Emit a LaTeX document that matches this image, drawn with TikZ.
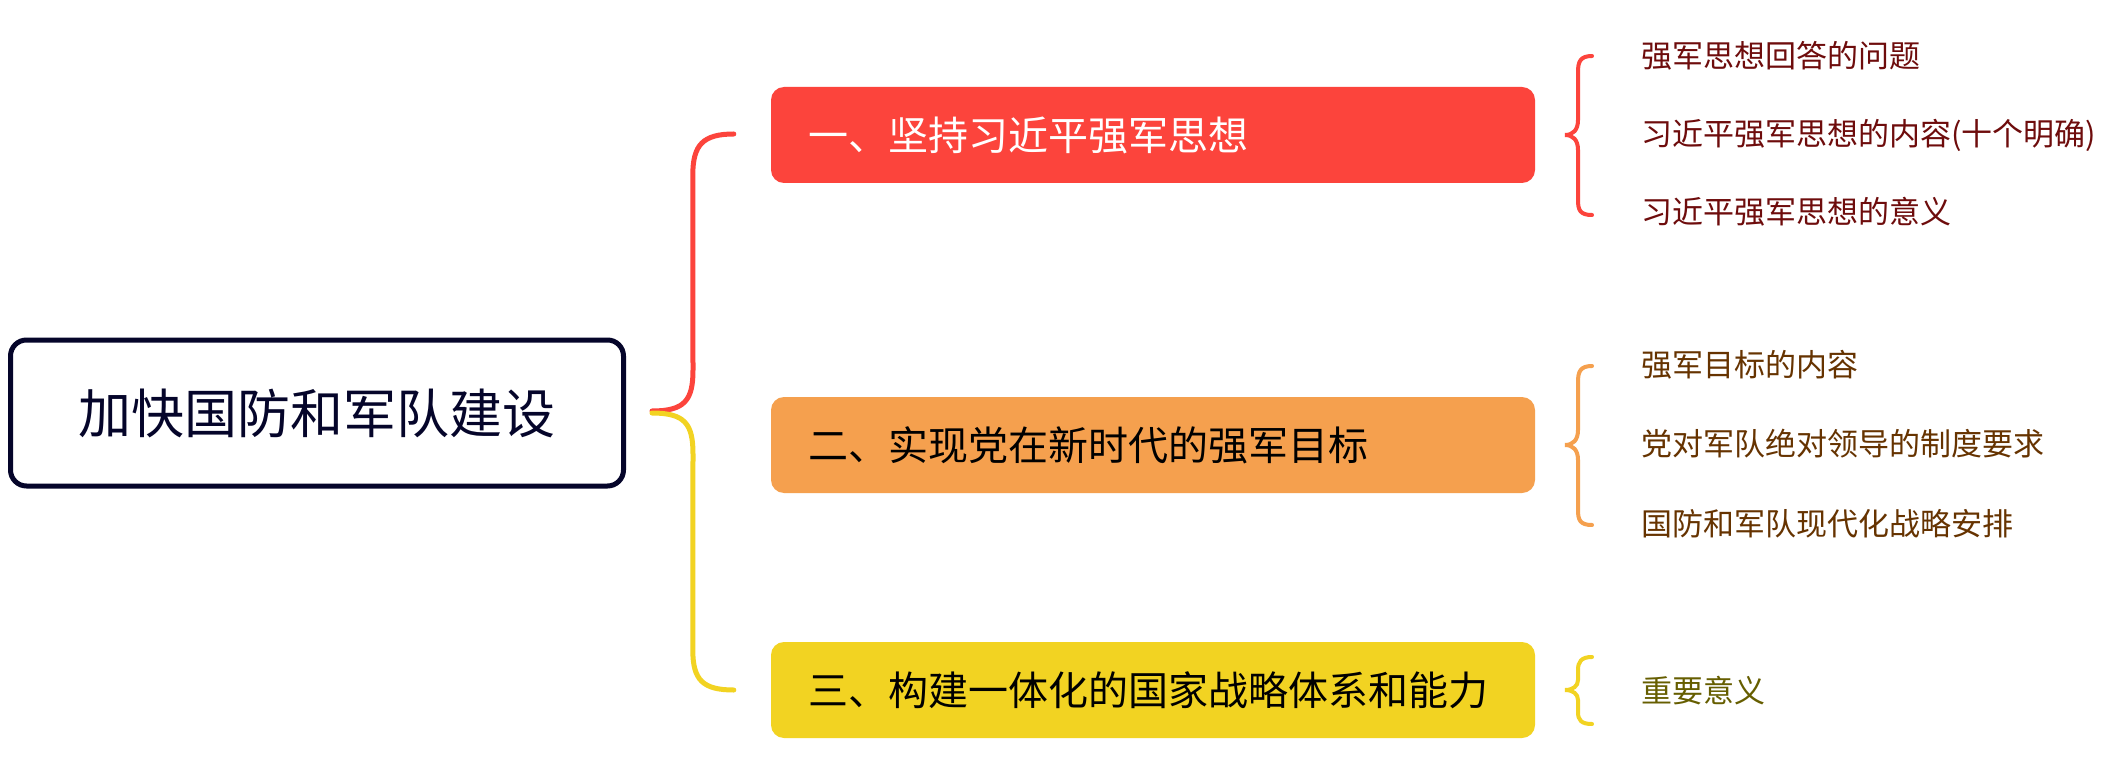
\documentclass[tikz,border=0pt]{standalone}
\usepackage{fontspec}
\setmainfont{Noto Sans CJK SC}
\usetikzlibrary{calc}
\definecolor{cred}{HTML}{FC443C}
\definecolor{corange}{HTML}{F5A04E}
\definecolor{cyellow}{HTML}{F2D322}
\definecolor{cnavy}{HTML}{05052A}
\definecolor{tred}{HTML}{6E0C0C}
\definecolor{torange}{HTML}{663300}
\definecolor{tyellow}{HTML}{665E00}
\begin{document}
\begin{tikzpicture}[x=1pt,y=-1pt,
  rootbox/.style={draw=cnavy,line width=5pt,rounded corners=16pt,minimum width=613pt,minimum height=146pt,inner sep=0pt,font=\fontsize{53}{60}\selectfont,text=cnavy},
  topicbox/.style={rounded corners=13pt,minimum width=764pt,minimum height=96pt,text width=690pt,align=left,inner xsep=37pt,inner ysep=0pt,font=\fontsize{40}{46}\selectfont},
  item/.style={anchor=west,inner sep=0pt,font=\fontsize{31}{36}\selectfont},
  bigbrace/.style={line width=5pt,line cap=round},
  smallbrace/.style={line width=4pt,line cap=round}]
\useasboundingbox (0,0) rectangle (2105,762);
\fill[white] (0,0) rectangle (2105,762);
% root
\node[rootbox] (root) at (317,413) {加快国防和军队建设};
% topics
\node[topicbox,fill=cred,text=white] (t1) at (1153,135) {一、坚持习近平强军思想};
\node[topicbox,fill=corange,text=black] (t2) at (1153,445) {二、实现党在新时代的强军目标};
\node[topicbox,fill=cyellow,text=black] (t3) at (1153,690) {三、构建一体化的国家战略体系和能力};
% connector end points
\coordinate (rs) at ($(root.east)+(26,-2)$);
\coordinate (rs2) at ($(root.east)+(26,0)$);
\coordinate (e1) at ($(t1.west)+(-37,-1)$);
\coordinate (e3) at ($(t3.west)+(-37,0)$);
% main connectors
\draw[bigbrace,draw=cred] (rs) .. controls ($(rs)+(33,0)$) and ($(rs)+(41,-11)$) .. ($(rs)+(41,-41)$) -- ($(e1)+(-41,41)$) .. controls ($(e1)+(-41,11)$) and ($(e1)+(-31,0)$) .. (e1);
\draw[bigbrace,draw=cyellow] (rs2) .. controls ($(rs2)+(33,0)$) and ($(rs2)+(41,11)$) .. ($(rs2)+(41,41)$) -- ($(e3)+(-41,-40)$) .. controls ($(e3)+(-41,-10)$) and ($(e3)+(-31,0)$) .. (e3);
% sub items group 1
\node[item,text=tred] (a1) at (1641,56) {强军思想回答的问题};
\node[item,text=tred] (a2) at (1641,135) {习近平强军思想的内容(十个明确)};
\node[item,text=tred] (a3) at (1641,212) {习近平强军思想的意义};
\draw[smallbrace,draw=cred] (1592,56) .. controls (1580,56) and (1578,62) .. (1578,72) -- (1578,120) .. controls (1578,130) and (1573,135) .. (1565,135) .. controls (1573,135) and (1578,140) .. (1578,150) -- (1578,200) .. controls (1578,210) and (1580,215) .. (1592,215);
% sub items group 2
\node[item,text=torange] (b1) at (1641,365) {强军目标的内容};
\node[item,text=torange] (b2) at (1641,444) {党对军队绝对领导的制度要求};
\node[item,text=torange] (b3) at (1641,524) {国防和军队现代化战略安排};
\draw[smallbrace,draw=corange] (1592,366) .. controls (1580,366) and (1578,372) .. (1578,382) -- (1578,430) .. controls (1578,440) and (1573,445) .. (1565,445) .. controls (1573,445) and (1578,450) .. (1578,460) -- (1578,510) .. controls (1578,520) and (1580,525) .. (1592,525);
% sub items group 3
\node[item,text=tyellow] (c1) at (1641,691) {重要意义};
\draw[smallbrace,draw=cyellow] (1592,657) .. controls (1581,657) and (1578,662) .. (1578,670) -- (1578,680) .. controls (1578,686) and (1573,690) .. (1565,690) .. controls (1573,690) and (1578,694) .. (1578,700) -- (1578,712) .. controls (1578,720) and (1581,724) .. (1592,724);
\end{tikzpicture}
\end{document}
